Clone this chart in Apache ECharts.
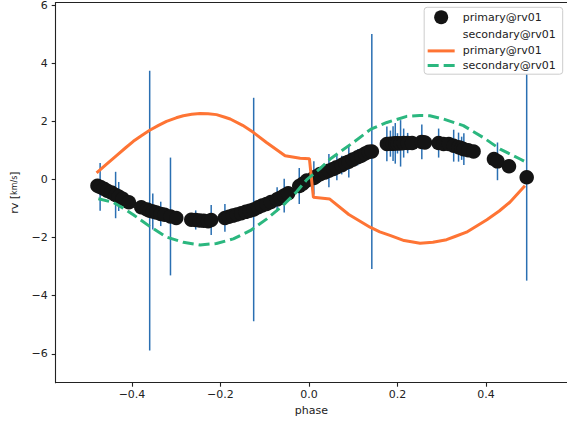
<!DOCTYPE html>
<html>
<head>
<meta charset="utf-8">
<script src="https://cdn.jsdelivr.net/npm/echarts@6/dist/echarts.min.js"></script>
<style>html,body{margin:0;padding:0;background:#fff;}#c{width:567px;height:423px;}</style>
</head>
<body>
<div id="c"></div>
<script>
// Observations (primary@rv01): phase, rv, error
const obsPhase = [-0.478,-0.472,-0.464,-0.456,-0.447,-0.437,-0.430,-0.421,-0.407,
  -0.379,-0.366,-0.360,-0.353,-0.345,-0.335,-0.326,-0.313,-0.300,-0.266,-0.256,-0.247,-0.238,-0.228,-0.221,
  -0.190,-0.181,-0.172,-0.163,-0.153,-0.143,-0.134,-0.125,-0.115,-0.106,-0.096,-0.086,-0.072,-0.064,-0.056,-0.047,
  -0.022,-0.014,-0.005,0.011,0.016,0.025,0.036,0.045,0.055,0.063,0.074,0.082,0.090,0.099,0.110,0.118,0.127,0.135,0.142,
  0.176,0.184,0.190,0.195,0.200,0.207,0.214,0.223,0.233,0.255,0.262,
  0.293,0.304,0.316,0.327,0.338,0.345,0.350,0.360,0.372,
  0.418,0.426,0.452,0.492];
const obsRv = [-0.21,-0.25,-0.31,-0.38,-0.44,-0.53,-0.58,-0.66,-0.78,
  -0.95,-1.03,-1.07,-1.10,-1.13,-1.18,-1.21,-1.27,-1.32,-1.38,-1.39,-1.41,-1.42,-1.43,-1.39,
  -1.32,-1.28,-1.24,-1.20,-1.16,-1.11,-1.07,-1.03,-0.95,-0.89,-0.84,-0.77,-0.68,-0.62,-0.55,-0.47,
  -0.22,-0.14,-0.03,0.06,0.11,0.19,0.25,0.31,0.37,0.43,0.50,0.57,0.62,0.69,0.77,0.82,0.90,0.96,0.97,
  1.23,1.24,1.24,1.25,1.25,1.25,1.26,1.26,1.26,1.30,1.28,
  1.26,1.23,1.23,1.17,1.12,1.08,1.05,1.01,0.97,
  0.71,0.63,0.46,0.08];
const obsErr = [0.20,0.82,0.20,0.20,0.20,0.80,0.50,0.20,0.20,
  0.20,0.20,4.82,0.62,0.20,0.42,0.20,2.03,0.20,0.20,0.33,0.20,0.20,0.20,0.52,
  0.48,0.20,0.20,0.20,0.20,0.20,0.20,3.85,0.20,0.20,0.20,0.20,0.42,0.20,0.58,0.20,
  0.62,0.20,0.20,0.57,0.20,0.20,0.20,0.57,0.20,0.45,0.32,0.20,0.55,0.20,0.28,0.20,0.20,0.20,4.05,
  0.60,0.45,0.60,0.70,0.35,0.80,0.50,0.35,0.20,0.60,0.20,
  0.50,0.20,0.20,0.55,0.50,0.40,0.55,0.20,0.20,
  0.20,0.65,0.20,3.56];

// Model curves
const primaryPhase = [-0.480,-0.460,-0.435,-0.415,-0.397,-0.378,-0.360,-0.340,-0.322,-0.300,-0.284,-0.265,-0.246,-0.228,-0.209,-0.190,-0.178,-0.150,-0.126,-0.096,-0.054,-0.020,0.001,0.010,0.047,0.090,0.138,0.160,0.183,0.215,0.251,0.280,0.311,0.330,0.356,0.402,0.430,0.454,0.488];
const primaryRv = [0.23,0.50,0.83,1.09,1.32,1.52,1.70,1.87,2.01,2.13,2.20,2.25,2.28,2.27,2.24,2.15,2.09,1.87,1.63,1.28,0.82,0.74,0.72,-0.61,-0.67,-1.20,-1.64,-1.80,-1.92,-2.10,-2.19,-2.16,-2.07,-1.96,-1.81,-1.38,-1.08,-0.78,-0.21];
const secondaryPhase = [-0.476,-0.443,-0.420,-0.397,-0.360,-0.322,-0.284,-0.246,-0.209,-0.171,-0.133,-0.096,-0.058,-0.028,-0.005,0.025,0.047,0.100,0.140,0.176,0.221,0.250,0.273,0.304,0.349,0.394,0.432,0.477,0.486];
const secondaryRv = [-0.66,-0.78,-0.98,-1.21,-1.61,-1.98,-2.16,-2.25,-2.20,-2.04,-1.76,-1.36,-0.88,-0.42,0.0,0.38,0.70,1.28,1.74,1.97,2.18,2.21,2.20,2.09,1.86,1.45,1.05,0.71,0.64];

const xTicks = [-0.4,-0.2,0.0,0.2,0.4];
const yTicks = [-6,-4,-2,0,2,4,6];

const FONT = 'DejaVu Sans';
const minus = s => String(s).replace('-', '\u2212');

const obsData = obsPhase.map((p,i)=>[p, obsRv[i], obsErr[i]]);
const primData = primaryPhase.map((p,i)=>[p, primaryRv[i]]);
const secData = secondaryPhase.map((p,i)=>[p, secondaryRv[i]]);

const ORANGE = '#fe7434', GREEN = '#2bb77f';
const chart = echarts.init(document.getElementById('c'), null, {renderer:'svg'});
chart.setOption({
  animation: false,
  backgroundColor: '#fff',
  textStyle: {fontFamily: FONT},
  grid: {left: 55.7, right: 0, top: 1.7, bottom: 40.3, containLabel: false},
  xAxis: [{
    type: 'value', min: -0.5724, max: 0.5831,
    name: 'phase', nameLocation: 'middle', nameGap: 21,
    nameTextStyle: {fontSize: 11, color: '#222', fontFamily: FONT},
    axisLine: {show: true, onZero: false, lineStyle: {color: '#222', width: 1.1}},
    axisTick: {show: true, length: 4, lineStyle: {color: '#222', width: 1.1}, customValues: xTicks},
    axisLabel: {fontSize: 11, color: '#222', margin: 6.5, fontFamily: FONT, customValues: xTicks,
      formatter: v => minus(v.toFixed(1))},
    splitLine: {show: false}
  }, {
    type: 'value', position: 'top', min: -0.5724, max: 0.5831,
    axisLine: {show: true, onZero: false, lineStyle: {color: '#222', width: 1.1}},
    axisTick: {show: false}, axisLabel: {show: false}, splitLine: {show: false}
  }],
  yAxis: {
    type: 'value', min: -6.997, max: 6.103,
    name: 'rv [{f|km/s}]', nameLocation: 'middle', nameGap: 36, nameRotate: 90,
    nameTextStyle: {fontSize: 11, color: '#222', fontFamily: FONT,
      rich: {f: {fontSize: 8, color: '#222', fontFamily: FONT}}},
    axisLine: {show: true, onZero: false, lineStyle: {color: '#222', width: 1.1}},
    axisTick: {show: true, length: 4, lineStyle: {color: '#222', width: 1.1}, customValues: yTicks},
    axisLabel: {fontSize: 11, color: '#222', margin: 8, fontFamily: FONT, customValues: yTicks,
      formatter: v => minus(Math.round(v))},
    splitLine: {show: false}
  },
  legend: {
    orient: 'vertical', right: 4.3, top: 7.3,
    data: [
      {name: 'primary@rv01', icon: 'circle'},
      {name: 'secondary@rv01', icon: 'circle'},
      {name: 'primary@rv01 ', itemStyle: {color: 'rgba(0,0,0,0)', borderWidth: 0, opacity: 0},
        lineStyle: {color: ORANGE, width: 3, type: 'solid'}},
      {name: 'secondary@rv01 ', itemStyle: {color: 'rgba(0,0,0,0)', borderWidth: 0, opacity: 0},
        lineStyle: {color: GREEN, width: 3, type: [11, 5]}}
    ],
    formatter: n => n.trim(),
    itemWidth: 27, itemHeight: 14, itemGap: 3.5,
    padding: [3, 7, 3, 2],
    backgroundColor: 'rgba(255,255,255,0.8)',
    borderColor: '#cccccc', borderWidth: 1, borderRadius: 3,
    textStyle: {fontSize: 11, color: '#222', fontFamily: FONT, padding: [0,0,0,3]},
    selectedMode: false
  },
  series: [
    {
      type: 'custom', name: 'errorbars', silent: true,
      renderItem: function (params, api) {
        const x = api.value(0), y = api.value(1), e = api.value(2);
        const a = api.coord([x, y - e]);
        const b = api.coord([x, y + e]);
        return {type: 'line', shape: {x1: a[0], y1: a[1], x2: b[0], y2: b[1]},
          style: {stroke: '#2a6fb2', lineWidth: 1.5}};
      },
      encode: {x: 0, y: 1},
      data: obsData, z: 2
    },
    {
      type: 'scatter', name: 'primary@rv01', symbol: 'circle', symbolSize: 14.5,
      itemStyle: {color: '#141414', opacity: 1},
      data: obsData.map(d => [d[0], d[1]]), z: 3, silent: true
    },
    {
      type: 'scatter', name: 'secondary@rv01', symbol: 'circle', symbolSize: 14.5,
      itemStyle: {color: 'rgba(0,0,0,0)'}, data: [], z: 3
    },
    {
      type: 'line', name: 'primary@rv01 ', data: primData, symbol: 'none', showSymbol: false,
      lineStyle: {color: ORANGE, width: 3}, itemStyle: {color: ORANGE}, z: 4, silent: true
    },
    {
      type: 'line', name: 'secondary@rv01 ', data: secData, symbol: 'none', showSymbol: false,
      lineStyle: {color: GREEN, width: 3, type: [11, 5]}, itemStyle: {color: GREEN}, z: 5, silent: true
    }
  ]
});
</script>
</body>
</html>
